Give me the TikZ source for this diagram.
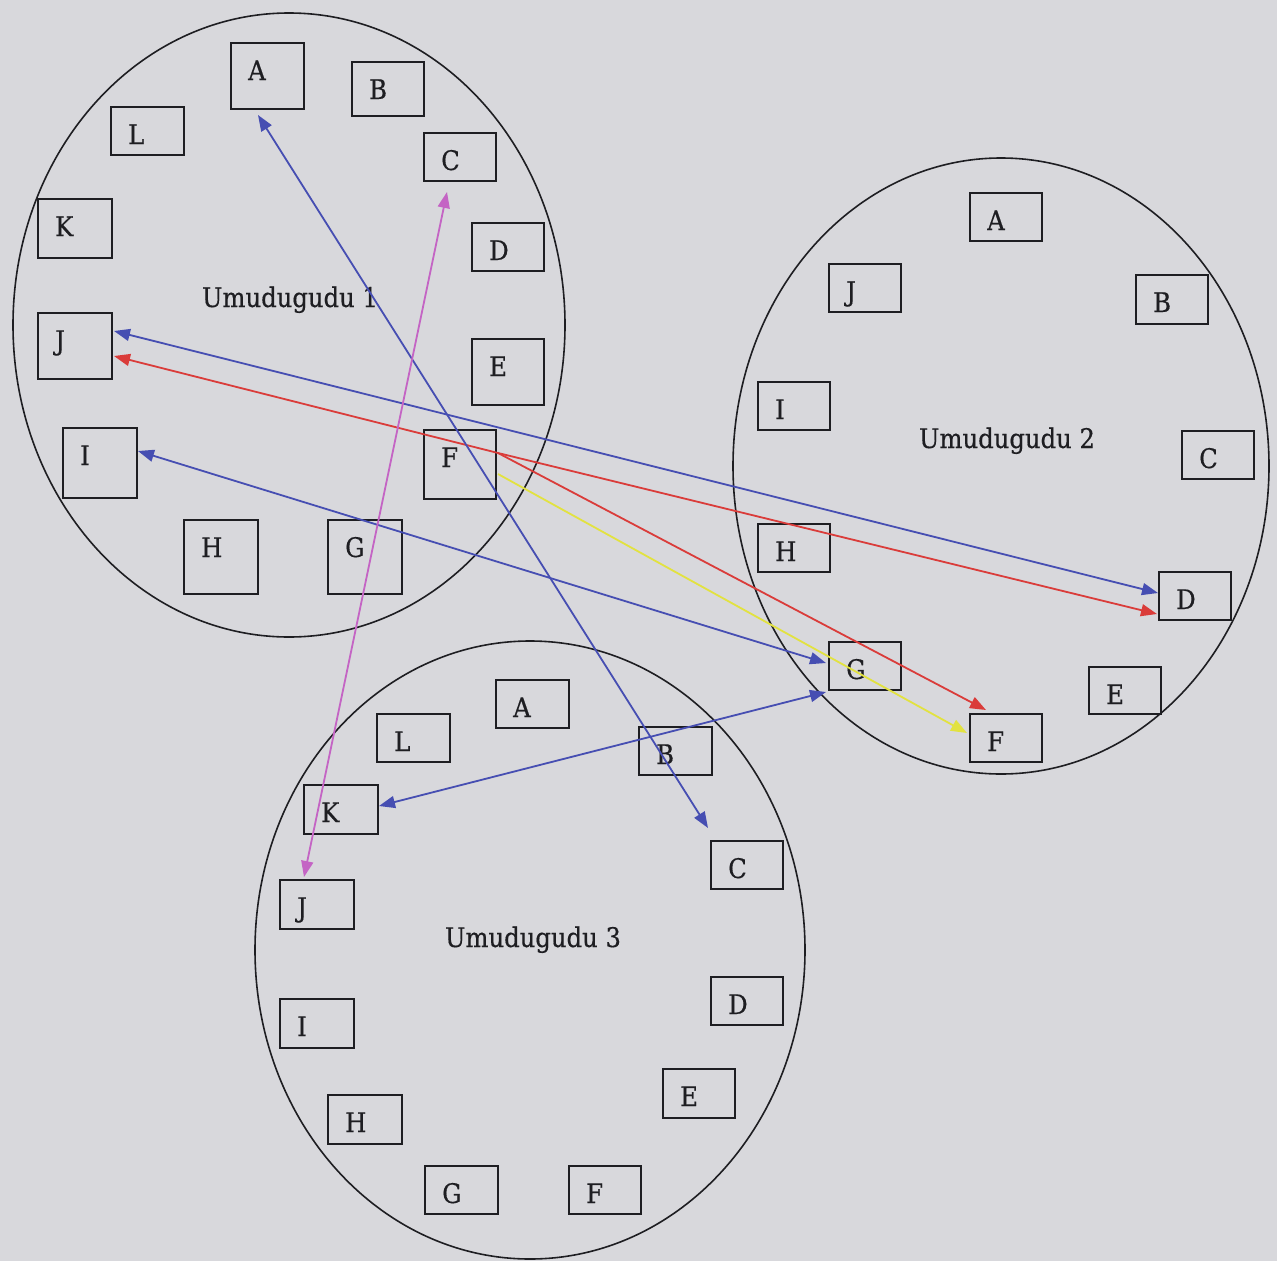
\documentclass[tikz,border=0pt]{standalone}
\usepackage{fontspec}
\setmainfont[FakeStretch=0.9,FakeBold=0.5]{DejaVu Serif}
\usetikzlibrary{arrows.meta,calc}

\definecolor{paper}{RGB}{216,216,220}
\definecolor{ink}{RGB}{30,30,34}
\definecolor{lnblue}{RGB}{70,78,178}
\definecolor{lnred}{RGB}{218,60,58}
\definecolor{lnmag}{RGB}{196,100,196}
\definecolor{lnyel}{RGB}{226,226,64}

\tikzset{
  cellbox/.style={draw=ink, line width=2pt, rectangle, inner sep=0pt},
  lbl/.style={inner sep=0pt, text=ink, font=\fontsize{27}{30}\selectfont},
  title/.style={inner sep=0pt, text=ink, font=\fontsize{27}{30}\selectfont},
  village/.style={draw=ink, line width=1.6pt},
  conn/.style={line width=1.8pt},
  wtip/.tip={Triangle[length=16pt,width=12pt]}
}

% one family box: name, left, top, width, height, letter
\newcommand\famcell[6]{%
  \node[cellbox, minimum width=#4, minimum height=#5, anchor=north west] (#1) at (#2,#3) {};
  \node[lbl, anchor=base west] (#1-t) at ($(#1.north west)+(18,38)$) {#6};
}

\begin{document}
\begin{tikzpicture}[x=1pt,y=-1pt]
  \fill[paper] (0,0) rectangle (1277,1261);
  \useasboundingbox (0,0) rectangle (1277,1261);

  % the three villages
  \draw[village] (289,325) ellipse [x radius=276, y radius=312];
  \draw[village] (1001,466) ellipse [x radius=268, y radius=308];
  \draw[village] (530,950) ellipse [x radius=275, y radius=309];

  \node[title, anchor=base] (v1) at (290,307) {Umudugudu 1};
  \node[title, anchor=base] (v2) at (1007,448) {Umudugudu 2};
  \node[title, anchor=base] (v3) at (533,947) {Umudugudu 3};

  % Umudugudu 1
  \famcell{a1}{230}{42}{73}{66}{A}
  \famcell{b1}{351}{61}{72}{54}{B}
  \famcell{c1}{423}{132}{72}{48}{C}
  \famcell{d1}{471}{222}{72}{48}{D}
  \famcell{e1}{471}{338}{72}{66}{E}
  \famcell{f1}{423}{429}{72}{69}{F}
  \famcell{g1}{327}{519}{74}{74}{G}
  \famcell{h1}{183}{519}{74}{74}{H}
  \famcell{i1}{62}{427}{74}{70}{I}
  \famcell{j1}{37}{312}{74}{66}{J}
  \famcell{k1}{37}{198}{74}{59}{K}
  \famcell{l1}{110}{106}{73}{48}{L}

  % Umudugudu 2
  \famcell{a2}{969}{192}{72}{48}{A}
  \famcell{b2}{1135}{274}{72}{49}{B}
  \famcell{c2}{1181}{430}{72}{48}{C}
  \famcell{d2}{1158}{571}{72}{48}{D}
  \famcell{e2}{1088}{666}{72}{47}{E}
  \famcell{f2}{969}{713}{72}{48}{F}
  \famcell{g2}{828}{641}{72}{48}{G}
  \famcell{h2}{757}{523}{72}{48}{H}
  \famcell{i2}{757}{381}{72}{48}{I}
  \famcell{j2}{828}{263}{72}{48}{J}

  % Umudugudu 3
  \famcell{a3}{495}{679}{73}{48}{A}
  \famcell{b3}{638}{726}{73}{48}{B}
  \famcell{c3}{710}{840}{72}{48}{C}
  \famcell{d3}{710}{976}{72}{48}{D}
  \famcell{e3}{662}{1068}{72}{49}{E}
  \famcell{f3}{568}{1165}{72}{48}{F}
  \famcell{g3}{424}{1165}{73}{48}{G}
  \famcell{h3}{327}{1094}{74}{49}{H}
  \famcell{i3}{279}{998}{74}{49}{I}
  \famcell{j3}{279}{879}{74}{49}{J}
  \famcell{k3}{303}{784}{74}{49}{K}
  \famcell{l3}{376}{713}{73}{48}{L}

  % links between families
  \coordinate (fr) at ($(f1.east)+(1,-11.5)$);
  \coordinate (fy) at ($(f1.east)+(1,9.5)$);

  \draw[conn, lnred, -{wtip}] (fr) -- ($(j1.east)+(1,10)$);
  \draw[conn, lnred, -{wtip}] (fr) -- ($(d2.west)+(-1,18)$);
  \draw[conn, lnred, -{wtip}] (fr) -- ($(f2.north)+(-20,-3)$);
  \draw[conn, lnyel, -{wtip}] (fy) -- ($(f2.west)+(-2,-5)$);

  \draw[conn, lnblue, {wtip}-{wtip}] ($(a1.south)+(-9.5,5)$) -- ($(c3.north west)+(-2,-12)$);
  \draw[conn, lnblue, {wtip}-{wtip}] ($(j1.east)+(1,-15)$) -- ($(d2.west)+(0,-3)$);
  \draw[conn, lnblue, {wtip}-{wtip}] ($(i1.east)+(0,-12)$) -- ($(g2.west)+(-2,-3)$);
  \draw[conn, lnblue, {wtip}-{wtip}] ($(k3.east)+(0,-3.5)$) -- ($(g2.south west)+(-2,1)$);
  \draw[conn, lnmag, {wtip}-{wtip}] ($(c1.south)+(-13,10)$) -- ($(j3.north)+(-13,-2)$);
\end{tikzpicture}
\end{document}
